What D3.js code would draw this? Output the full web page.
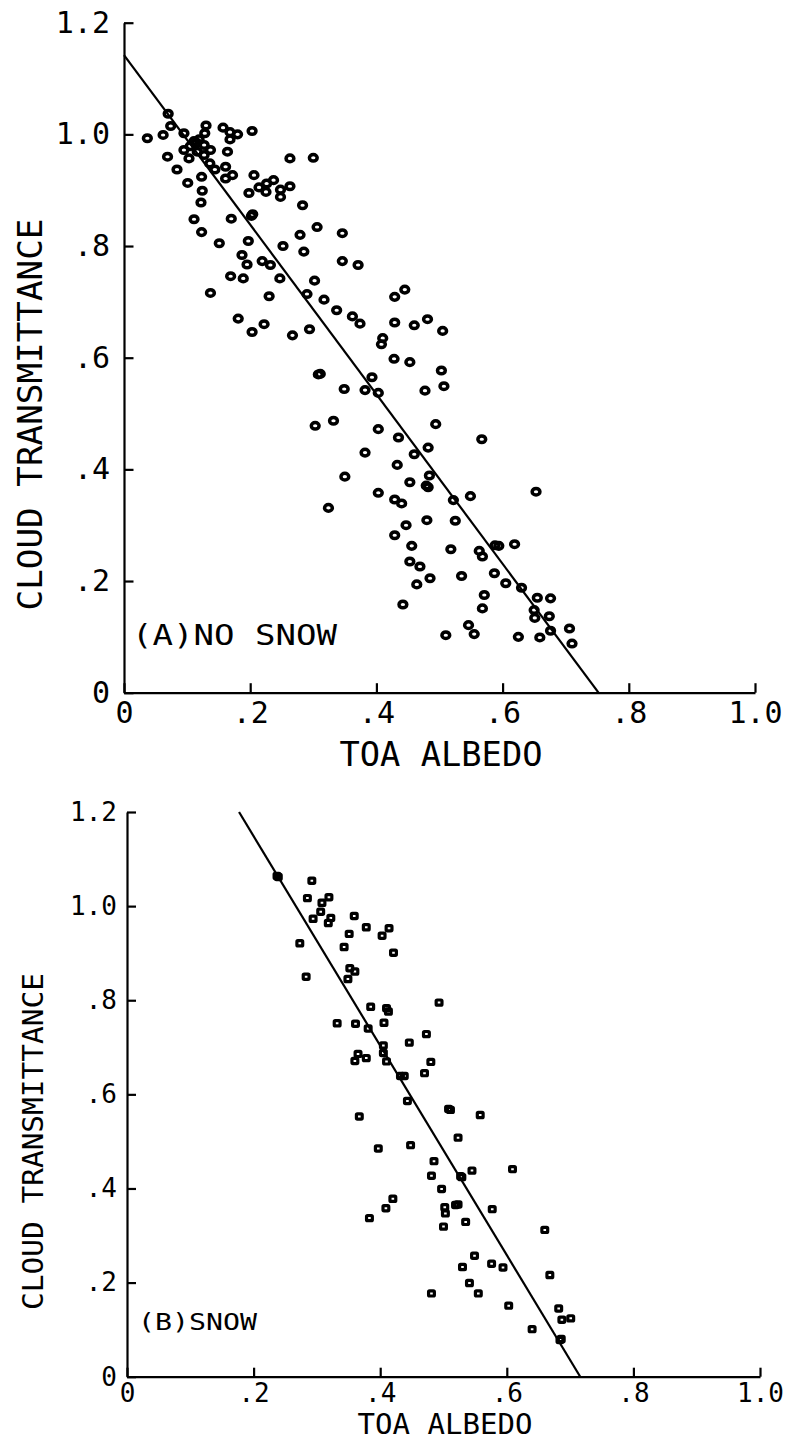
<!DOCTYPE html>
<html>
<head>
<meta charset="utf-8">
<script src="https://cdn.jsdelivr.net/npm/d3@7"></script>
<style>
  html, body { margin: 0; padding: 0; background: #fff; }
  svg { display: block; }
</style>
</head>
<body>
<svg id="chart" width="791" height="1441"></svg>
<script>
// Cloud transmittance against top-of-atmosphere albedo, two surface conditions.

// (A) no snow: observed pairs
const noSnowAlbedo = [
  0.070, 0.074, 0.037, 0.062, 0.095, 0.130, 0.128, 0.157, 0.168, 0.180,
  0.168, 0.203, 0.111, 0.119, 0.127, 0.137, 0.116, 0.103, 0.127, 0.095,
  0.105, 0.164, 0.069, 0.136, 0.144, 0.161, 0.161, 0.172, 0.084, 0.123,
  0.101, 0.124, 0.122, 0.206, 0.198, 0.214, 0.226, 0.237, 0.225, 0.248,
  0.248, 0.263, 0.263, 0.300, 0.283, 0.202, 0.170, 0.111, 0.123, 0.306,
  0.279, 0.346, 0.151, 0.197, 0.252, 0.285, 0.346, 0.187, 0.195, 0.219,
  0.232, 0.169, 0.189, 0.247, 0.302, 0.137, 0.230, 0.290, 0.317, 0.371,
  0.181, 0.203, 0.222, 0.267, 0.294, 0.337, 0.362, 0.374, 0.445, 0.429,
  0.429, 0.460, 0.481, 0.505, 0.410, 0.408, 0.428, 0.453, 0.308, 0.393,
  0.349, 0.382, 0.403, 0.503, 0.507, 0.477, 0.303, 0.332, 0.403, 0.435,
  0.494, 0.567, 0.382, 0.460, 0.482, 0.433, 0.350, 0.324, 0.403, 0.429,
  0.440, 0.484, 0.453, 0.482, 0.522, 0.549, 0.653, 0.480, 0.525, 0.447,
  0.429, 0.456, 0.518, 0.563, 0.568, 0.588, 0.594, 0.619, 0.453, 0.469,
  0.464, 0.485, 0.535, 0.587, 0.605, 0.630, 0.442, 0.571, 0.568, 0.655,
  0.676, 0.650, 0.651, 0.674, 0.546, 0.555, 0.510, 0.625, 0.659, 0.676,
  0.706, 0.710, 0.204, 0.311, 0.479, 0.115
];
const noSnowTrans = [
  1.037, 1.015, 0.993, 0.999, 1.002, 1.016, 1.002, 1.012, 1.004, 1.000,
  0.991, 1.006, 0.988, 0.991, 0.981, 0.972, 0.969, 0.957, 0.963, 0.972,
  0.979, 0.969, 0.960, 0.948, 0.937, 0.942, 0.921, 0.927, 0.937, 0.924,
  0.913, 0.899, 0.878, 0.927, 0.895, 0.905, 0.912, 0.918, 0.897, 0.901,
  0.888, 0.907, 0.957, 0.958, 0.873, 0.854, 0.849, 0.848, 0.825, 0.834,
  0.820, 0.823, 0.805, 0.809, 0.800, 0.790, 0.773, 0.784, 0.767, 0.773,
  0.766, 0.746, 0.742, 0.742, 0.738, 0.716, 0.710, 0.714, 0.704, 0.766,
  0.670, 0.646, 0.660, 0.640, 0.651, 0.685, 0.674, 0.661, 0.722, 0.709,
  0.663, 0.658, 0.669, 0.648, 0.635, 0.624, 0.598, 0.592, 0.570, 0.565,
  0.544, 0.542, 0.537, 0.577, 0.549, 0.541, 0.478, 0.487, 0.472, 0.457,
  0.481, 0.454, 0.430, 0.427, 0.439, 0.408, 0.387, 0.331, 0.358, 0.346,
  0.339, 0.389, 0.377, 0.368, 0.345, 0.352, 0.360, 0.309, 0.308, 0.300,
  0.282, 0.263, 0.257, 0.254, 0.244, 0.264, 0.263, 0.266, 0.235, 0.226,
  0.194, 0.205, 0.209, 0.214, 0.196, 0.188, 0.158, 0.175, 0.151, 0.170,
  0.169, 0.148, 0.134, 0.137, 0.121, 0.105, 0.103, 0.100, 0.099, 0.111,
  0.115, 0.088, 0.857, 0.571, 0.371, 0.985
];

// (B) snow: observed pairs
const snowAlbedo = [
  0.237, 0.292, 0.285, 0.319, 0.308, 0.306, 0.294, 0.322, 0.318, 0.359,
  0.378, 0.414, 0.403, 0.351, 0.273, 0.343, 0.421, 0.352, 0.360, 0.349,
  0.283, 0.385, 0.410, 0.413, 0.493, 0.332, 0.361, 0.381, 0.406, 0.473,
  0.446, 0.405, 0.405, 0.365, 0.360, 0.378, 0.410, 0.480, 0.432, 0.438,
  0.470, 0.443, 0.508, 0.558, 0.367, 0.523, 0.397, 0.448, 0.485, 0.545,
  0.609, 0.481, 0.527, 0.497, 0.420, 0.409, 0.383, 0.502, 0.503, 0.519,
  0.577, 0.535, 0.500, 0.660, 0.549, 0.530, 0.576, 0.594, 0.668, 0.481,
  0.541, 0.555, 0.603, 0.682, 0.687, 0.701, 0.640, 0.684, 0.239, 0.511,
  0.529, 0.523, 0.686
];
const snowTrans = [
  1.064, 1.054, 1.017, 1.019, 1.007, 0.988, 0.973, 0.975, 0.964, 0.979,
  0.955, 0.953, 0.937, 0.941, 0.921, 0.913, 0.901, 0.868, 0.861, 0.845,
  0.850, 0.786, 0.783, 0.776, 0.795, 0.751, 0.750, 0.740, 0.752, 0.728,
  0.710, 0.704, 0.688, 0.686, 0.671, 0.677, 0.670, 0.669, 0.639, 0.639,
  0.645, 0.586, 0.569, 0.556, 0.553, 0.508, 0.485, 0.492, 0.458, 0.438,
  0.441, 0.427, 0.426, 0.399, 0.378, 0.358, 0.337, 0.360, 0.347, 0.365,
  0.356, 0.329, 0.319, 0.312, 0.257, 0.233, 0.240, 0.232, 0.216, 0.177,
  0.199, 0.177, 0.151, 0.145, 0.121, 0.124, 0.101, 0.078, 1.062, 0.567,
  0.424, 0.366, 0.080
];

// Least-squares fit lines (end points)
const noSnowFitAlbedo = [0.0, 0.752];
const noSnowFitTrans  = [1.142, 0.0];
const snowFitAlbedo   = [0.177, 0.716];
const snowFitTrans    = [1.2, 0.0];

// Axes
const albedoTicks = [0, 0.2, 0.4, 0.6, 0.8, 1.0];
const transTicks  = [0, 0.2, 0.4, 0.6, 0.8, 1.0, 1.2];
const xTitle = "TOA ALBEDO";
const yTitle = "CLOUD TRANSMITTANCE";
const panelLabels = ["(A)NO SNOW", "(B)SNOW"];

const FONT = "'DejaVu Sans Mono', 'Liberation Mono', monospace";
const tickFmt = d => d === 0 ? "0" : d3.format(".1f")(d).replace(/^0/, "");

const svg = d3.select("#chart");

function drawPanel(p) {
  const g = svg.append("g");
  const x = d3.scaleLinear().domain([0, 1]).range([p.left, p.right]);
  const y = d3.scaleLinear().domain([0, 1.2]).range([p.bottom, p.top]);

  // y axis, ticks pointing into the plot
  const ya = g.append("g")
    .attr("transform", `translate(${p.left},0)`)
    .call(d3.axisLeft(y).tickValues(transTicks).tickFormat(tickFmt)
      .tickSize(-p.tick).tickSizeOuter(0).tickPadding(p.yPad));
  // x axis, ticks pointing up
  const xa = g.append("g")
    .attr("transform", `translate(0,${p.bottom})`)
    .call(d3.axisBottom(x).tickValues(albedoTicks).tickFormat(tickFmt)
      .tickSize(-p.tick).tickSizeOuter(0).tickPadding(p.xPad));

  [ya, xa].forEach(a => {
    a.attr("font-family", FONT).attr("font-size", p.tickFont);
    a.selectAll("path.domain").attr("stroke", "#000").attr("stroke-width", 2.2);
    a.selectAll(".tick line").attr("stroke", "#000").attr("stroke-width", 2.2);
    a.selectAll(".tick text").attr("fill", "#000");
  });

  // regression line
  g.append("path")
    .datum(d3.zip(p.fitX, p.fitY))
    .attr("d", d3.line().x(d => x(d[0])).y(d => y(d[1])))
    .attr("fill", "none").attr("stroke", "#000").attr("stroke-width", 2.2);

  // markers
  const pts = d3.zip(p.xs, p.ys);
  if (p.marker === "circle") {
    g.append("g").selectAll("ellipse").data(pts).join("ellipse")
      .attr("cx", d => x(d[0])).attr("cy", d => y(d[1]))
      .attr("rx", 3.9).attr("ry", 3.3)
      .attr("fill", "none").attr("stroke", "#000").attr("stroke-width", 3.5);
  } else {
    g.append("g").selectAll("rect").data(pts).join("rect")
      .attr("x", d => x(d[0]) - 2.9).attr("y", d => y(d[1]) - 2.6)
      .attr("width", 5.8).attr("height", 5.2).attr("rx", 1)
      .attr("fill", "none").attr("stroke", "#000").attr("stroke-width", 3.2);
  }

  // axis titles
  g.append("text")
    .attr("x", p.xTitle.x).attr("y", p.xTitle.y)
    .attr("text-anchor", "middle")
    .attr("font-family", FONT).attr("font-size", p.xTitle.size)
    .attr("textLength", p.xTitle.len).attr("lengthAdjust", "spacingAndGlyphs")
    .text(xTitle);
  g.append("text")
    .attr("transform", `translate(${p.yTitle.x},${p.yTitle.y}) rotate(-90)`)
    .attr("text-anchor", "middle")
    .attr("font-family", FONT).attr("font-size", p.yTitle.size)
    .attr("textLength", p.yTitle.len).attr("lengthAdjust", "spacingAndGlyphs")
    .text(yTitle);

  // panel label
  g.append("text")
    .attr("x", p.label.x).attr("y", p.label.y)
    .attr("font-family", FONT).attr("font-size", p.label.size)
    .attr("textLength", p.label.len).attr("lengthAdjust", "spacingAndGlyphs")
    .text(p.label.text);
}

drawPanel({
  left: 124, right: 755, top: 22.7, bottom: 692.7,
  tick: 9.5, yPad: 14, xPad: 9, tickFont: 30,
  xs: noSnowAlbedo, ys: noSnowTrans, marker: "circle",
  fitX: noSnowFitAlbedo, fitY: noSnowFitTrans,
  xTitle: { x: 441, y: 766, size: 34, len: 203 },
  yTitle: { x: 41.7, y: 414.5, size: 34, len: 392 },
  label: { x: 132, y: 645, size: 28, len: 205, text: panelLabels[0] }
});

drawPanel({
  left: 127, right: 760, top: 812, bottom: 1376.7,
  tick: 9, yPad: 10, xPad: 7, tickFont: 26,
  xs: snowAlbedo, ys: snowTrans, marker: "square",
  fitX: snowFitAlbedo, fitY: snowFitTrans,
  xTitle: { x: 445, y: 1433.5, size: 29, len: 175 },
  yTitle: { x: 43, y: 1141.5, size: 29, len: 337 },
  label: { x: 138, y: 1330, size: 23, len: 119, text: panelLabels[1] }
});
</script>
</body>
</html>
